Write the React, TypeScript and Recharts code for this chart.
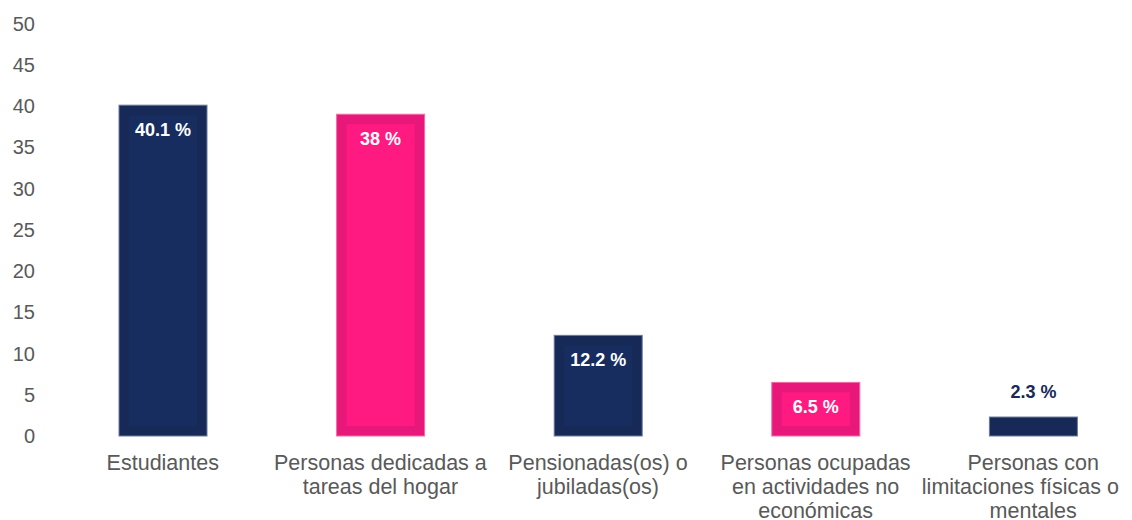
import React from 'react';
import { BarChart, Bar, XAxis, YAxis, LabelList, Cell } from 'recharts';

const categories = [
  'Estudiantes',
  'Personas dedicadas a\ntareas del hogar',
  'Pensionadas(os) o\njubiladas(os)',
  'Personas ocupadas\nen actividades no\neconómicas',
  'Personas con\nlimitaciones físicas o\nmentales',
];
// bar heights as drawn; the second bar is drawn a bit taller than its "38 %" label
const values = [40.1, 39.0, 12.2, 6.5, 2.3];
const valueLabels = ['40.1 %', '38 %', '12.2 %', '6.5 %', '2.3 %'];
const yTicks = [0, 5, 10, 15, 20, 25, 30, 35, 40, 45, 50];

const NAVY = { outer: '#172a57', inner: '#182d5f', edge: '#6c7a9a' };
const PINK = { outer: '#e8187a', inner: '#ff1a82', edge: '#f26aa6' };
const barColors = [NAVY, PINK, NAVY, PINK, NAVY];

const FONT = "'Liberation Sans', Arial, sans-serif";
const TICK_SIZE = 21.5;
const RIGHT_LIMIT = 1119; // labels are pushed left so they stay inside the chart

const data = categories.map((name, i) => ({ name, value: values[i], label: valueLabels[i], idx: i }));

let ctx: CanvasRenderingContext2D | null = null;
const textWidth = (s: string) => {
  if (!ctx) ctx = document.createElement('canvas').getContext('2d');
  if (!ctx) return 0;
  ctx.font = `${TICK_SIZE}px ${FONT}`;
  return ctx.measureText(s).width;
};

const BevelBar = (props: any) => {
  const { x, y, width, height, payload } = props;
  const c = barColors[payload.idx];
  const inset = 10;
  return (
    <g>
      <rect x={x} y={y} width={width} height={height} fill={c.outer} stroke={c.edge} strokeWidth={1} />
      {height > inset * 2 && (
        <rect x={x + inset} y={y + inset} width={width - inset * 2} height={height - inset * 2} fill={c.inner} />
      )}
    </g>
  );
};

const ValueLabel = (props: any) => {
  const { x, y, width, height, value, index } = props;
  const inside = height > 30;
  return (
    <text
      x={x + width / 2}
      y={inside ? y + 25 : y - 25}
      textAnchor="middle"
      dominantBaseline="central"
      fill={inside ? '#ffffff' : barColors[index].outer}
      fontSize={18}
      fontWeight="bold"
      fontFamily={FONT}
    >
      {value}
    </text>
  );
};

const CategoryTick = (props: any) => {
  const { x, y, payload } = props;
  const lines = String(payload.value).split('\n');
  return (
    <text y={y} textAnchor="middle" fill="#595959" fontSize={TICK_SIZE} fontFamily={FONT}>
      {lines.map((l, i) => {
        const w = textWidth(l);
        const cx = Math.min(x, RIGHT_LIMIT - w / 2);
        return (
          <tspan key={i} x={cx} dy={i === 0 ? 25.5 : 24}>
            {l}
          </tspan>
        );
      })}
    </text>
  );
};

export default function App() {
  return (
    <div style={{ margin: '-8px 0 0 -8px', width: 1132, height: 520, overflow: 'hidden' }}>
      <BarChart
        width={1158}
        height={520}
        data={data}
        margin={{ top: 23.5, right: 16, left: 0, bottom: 0 }}
      >
        <YAxis
          domain={[0, 50]}
          ticks={yTicks}
          width={54}
          axisLine={false}
          tickLine={false}
          tickSize={0}
          tickMargin={19}
          tick={{ fill: '#595959', fontSize: 20, fontFamily: FONT }}
        />
        <XAxis
          dataKey="name"
          height={84}
          axisLine={false}
          tickLine={false}
          interval={0}
          tick={<CategoryTick />}
        />
        <Bar dataKey="value" barSize={88} shape={<BevelBar />} isAnimationActive={false}>
          {data.map((d, i) => (
            <Cell key={i} fill={barColors[i].outer} />
          ))}
          <LabelList dataKey="label" content={<ValueLabel />} />
        </Bar>
      </BarChart>
    </div>
  );
}
